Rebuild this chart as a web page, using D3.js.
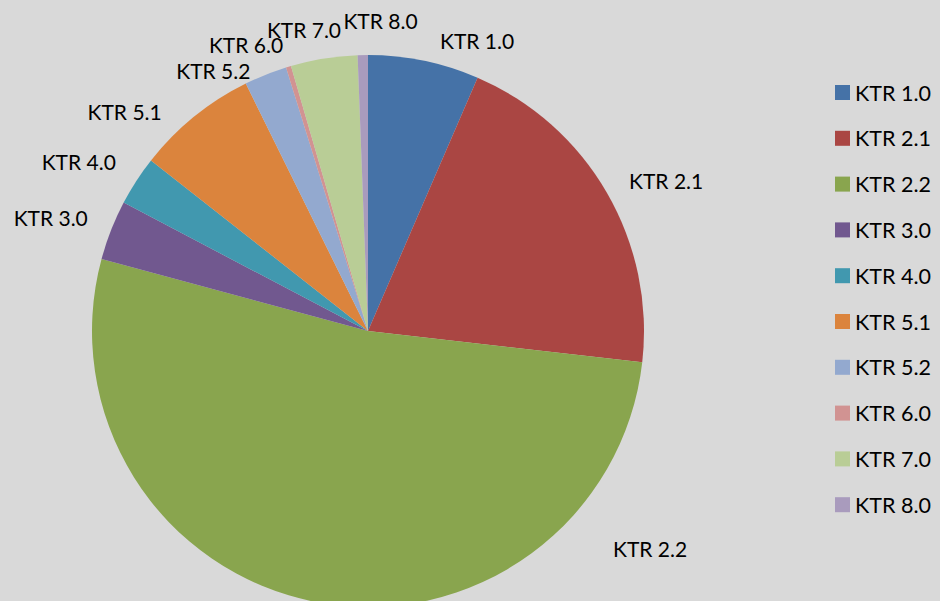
<!DOCTYPE html>
<html>
<head>
<meta charset="utf-8">
<script src="https://cdn.jsdelivr.net/npm/d3@7"></script>
<style>
  html, body { margin: 0; padding: 0; background: #d9d9d9; }
  svg { display: block; }
  text { font-family: Lato, "Open Sans", sans-serif; fill: #000; }
</style>
</head>
<body>
<svg id="chart" width="940" height="601"></svg>
<script>
// Share of each KTR category (percent)
const categories = ["KTR 1.0", "KTR 2.1", "KTR 2.2", "KTR 3.0", "KTR 4.0",
                    "KTR 5.1", "KTR 5.2", "KTR 6.0", "KTR 7.0", "KTR 8.0"];
const values = [6.5, 20.3, 52.4, 3.5, 2.9, 7.1, 2.5, 0.3, 3.9, 0.6];
const colors = ["#4572A7", "#AA4643", "#89A54E", "#71588F", "#4198AF",
                "#DB843D", "#93A9CF", "#D19392", "#B9CD96", "#A99BBD"];

const W = 940, H = 601;
const cx = 368, cy = 331, R = 276;

const svg = d3.select("#chart");
svg.append("rect").attr("width", W).attr("height", H).attr("fill", "#d9d9d9");

const data = categories.map((c, i) => ({ name: c, value: values[i], color: colors[i] }));

const pie = d3.pie().sort(null).value(d => d.value);
const arc = d3.arc().innerRadius(0).outerRadius(R);
const arcs = pie(data);

const g = svg.append("g").attr("transform", `translate(${cx},${cy})`);
g.selectAll("path.slice")
  .data(arcs)
  .join("path")
  .attr("class", "slice")
  .attr("d", arc)
  .attr("fill", d => d.data.color);

// Outside-end labels: polar placement around the pie (angle in degrees from 12 o'clock, distance)
const labelPolar = [[20.6, 310], [63.2, 334], [127.6, 356], [289.7, 337], [300.3, 335],
                    [312.1, 328], [329.3, 303], [336.9, 311], [348.0, 308], [2.3, 311]];
g.selectAll("text.lbl")
  .data(arcs)
  .join("text")
  .attr("class", "lbl")
  .attr("x", (d, i) => labelPolar[i][1] * Math.sin(labelPolar[i][0] * Math.PI / 180))
  .attr("y", (d, i) => -labelPolar[i][1] * Math.cos(labelPolar[i][0] * Math.PI / 180))
  .attr("text-anchor", "middle")
  .attr("dominant-baseline", "central")
  .attr("font-size", 21)
  .text(d => d.data.name);

// Legend
const legend = svg.append("g").attr("transform", "translate(835,85)");
const rowH = 45.8;
const rows = legend.selectAll("g.item").data(data).join("g")
  .attr("class", "item")
  .attr("transform", (d, i) => `translate(0,${i * rowH})`);
rows.append("rect").attr("width", 15).attr("height", 15).attr("fill", d => d.color);
rows.append("text").attr("x", 20).attr("y", 7.5)
  .attr("dominant-baseline", "central")
  .attr("font-size", 21.5)
  .text(d => d.name);
</script>
</body>
</html>
